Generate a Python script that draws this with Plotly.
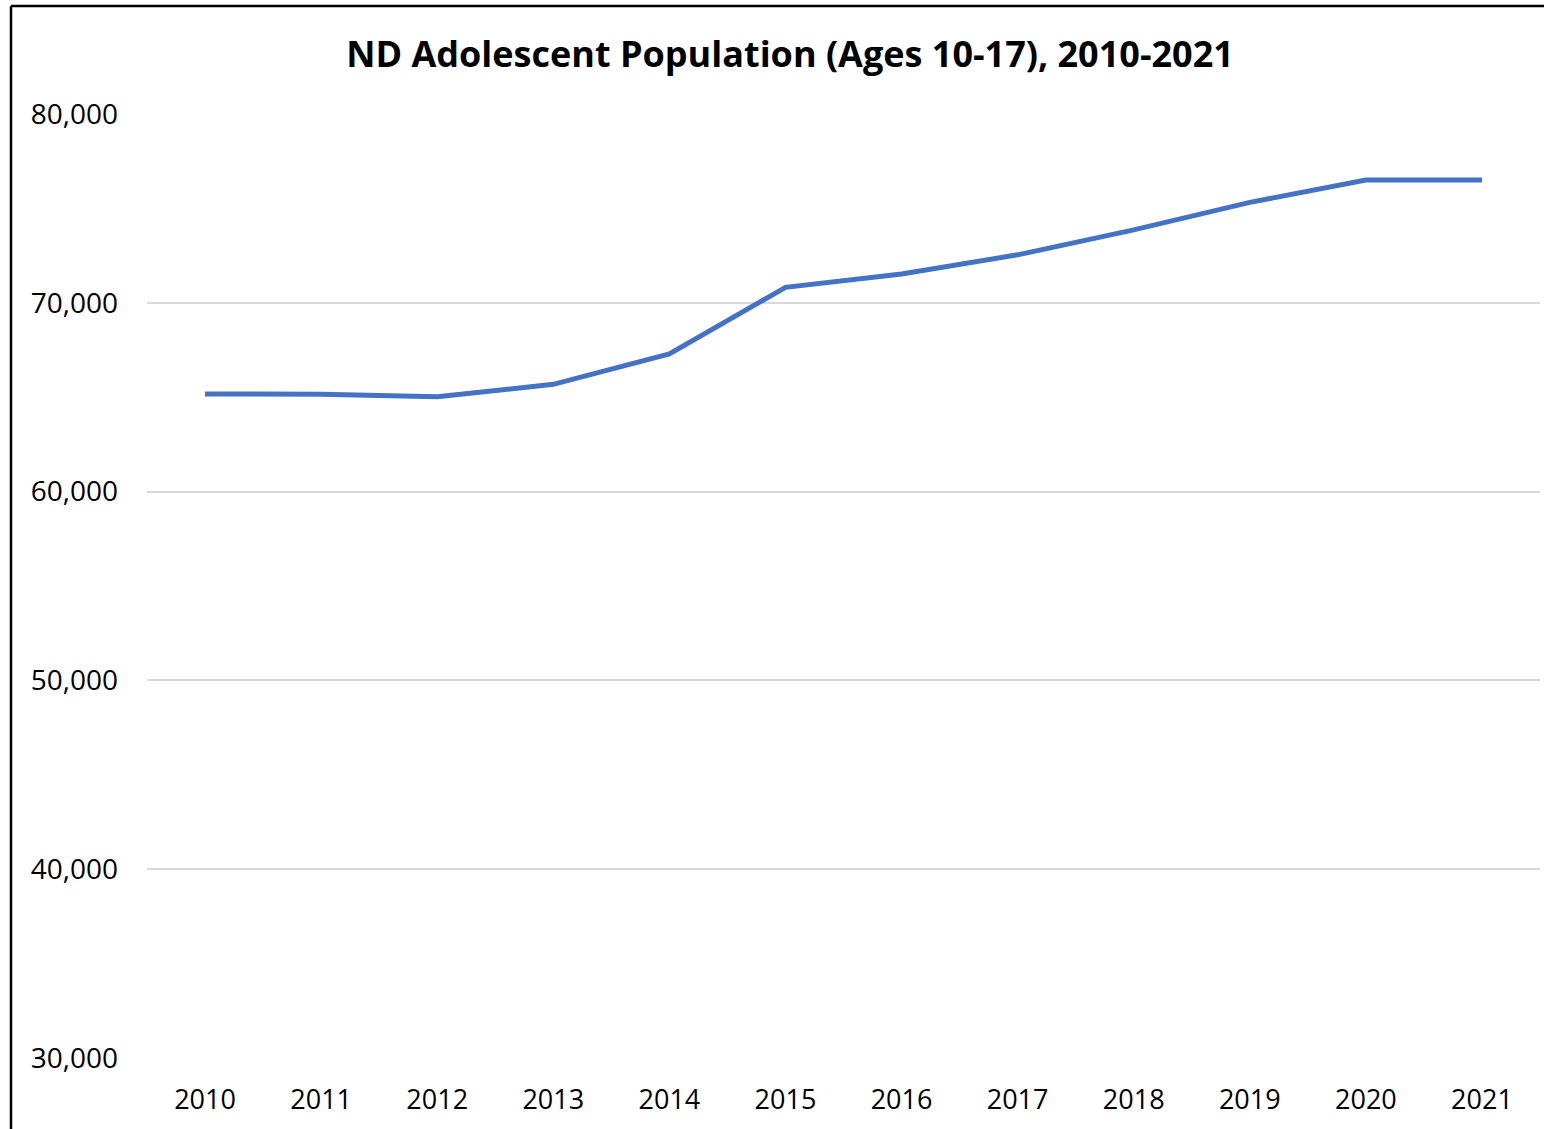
import plotly.graph_objects as go

years = ["2010", "2011", "2012", "2013", "2014", "2015", "2016", "2017", "2018", "2019", "2020", "2021"]
population = [65170, 65160, 65030, 65680, 67290, 70820, 71530, 72540, 73860, 75320, 76500, 76500]
y_ticks = [30000, 40000, 50000, 60000, 70000, 80000]
y_tick_labels = ["30,000", "40,000", "50,000", "60,000", "70,000", "80,000"]
title_text = "ND Adolescent Population (Ages 10-17), 2010-2021"

W, H = 1544, 1129
L, R, T, B = 147, 4, 114, 71
pw, ph = W - L - R, H - T - B

def px_x(p):
    return (p - L) / pw

def px_y(p):
    return (H - B - p) / ph

fig = go.Figure()
fig.add_trace(go.Scatter(
    x=years, y=population, mode="lines",
    line=dict(color="#4472C4", width=5),
    hoverinfo="x+y", showlegend=False,
))

font_family = "Open Sans, Noto Sans, Liberation Sans, sans-serif"

fig.update_layout(
    width=W, height=H,
    margin=dict(l=L, r=R, t=T, b=B),
    paper_bgcolor="white", plot_bgcolor="white",
    font=dict(family=font_family, color="#000000"),
    title=dict(text="<b>" + title_text + "</b>", xref="container", yref="container",
               x=790 / W, y=1 - 54 / H, xanchor="center", yanchor="middle",
               font=dict(size=36, family=font_family, color="#000000")),
    xaxis=dict(type="category", range=[-0.5, len(years) - 0.5], showgrid=False,
               showline=False, zeroline=False, ticks="", tickfont=dict(size=27),
               ticklabelstandoff=23),
    yaxis=dict(range=[30000, 80000], tickvals=y_ticks, ticktext=y_tick_labels,
               showgrid=True, gridcolor="#D9D9D9", gridwidth=1.5, zeroline=False,
               showline=False, ticks="", tickfont=dict(size=28),
               ticklabelstandoff=28),
    shapes=[
        dict(type="line", xref="paper", yref="paper", x0=px_x(11), x1=px_x(W + 5),
             y0=px_y(6), y1=px_y(6), line=dict(color="black", width=2.5)),
        dict(type="line", xref="paper", yref="paper", x0=px_x(11), x1=px_x(11),
             y0=px_y(6), y1=px_y(H + 5), line=dict(color="black", width=2.5)),
    ],
)

fig.write_html("out.html", config={"displayModeBar": False},
               post_script="document.body.style.margin='0';document.body.style.padding='0';")
